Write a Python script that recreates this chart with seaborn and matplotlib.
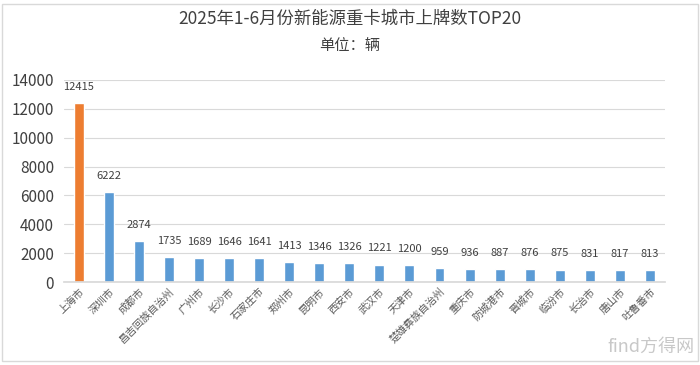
import matplotlib
matplotlib.use("Agg")
import matplotlib.pyplot as plt
import seaborn as sns
import pandas as pd

cities = ["上海市", "深圳市", "成都市", "昌吉回族自治州", "广州市", "长沙市", "石家庄市", "郑州市",
          "昆明市", "西安市", "武汉市", "天津市", "楚雄彝族自治州", "重庆市", "防城港市", "晋城市",
          "临汾市", "长治市", "唐山市", "吐鲁番市"]
values = [12415, 6222, 2874, 1735, 1689, 1646, 1641, 1413, 1346, 1326, 1221, 1200,
          959, 936, 887, 876, 875, 831, 817, 813]
yticks = [0, 2000, 4000, 6000, 8000, 10000, 12000, 14000]

sns.set_theme(style="white")
plt.rcParams['font.family'] = ['Noto Sans CJK SC', 'DejaVu Sans']

df = pd.DataFrame({"city": cities, "value": values})
palette = ["#ED7D31"] + ["#5B9BD5"] * (len(cities) - 1)

fig = plt.figure(figsize=(7, 3.65), dpi=100)
ax = fig.add_axes([0.091, 0.227, 0.859, 0.554])
sns.barplot(data=df, x="city", y="value", hue="city", palette=palette, legend=False,
            width=0.33, ax=ax, saturation=1)

ax.set_ylim(0, 14000)
ax.set_yticks(yticks)
ax.set_yticklabels([str(v) for v in yticks], fontsize=11, color="#404040")
ax.yaxis.grid(True, color="#D9D9D9", linewidth=0.8)
ax.set_axisbelow(True)
for s in ["top", "right", "left"]:
    ax.spines[s].set_visible(False)
ax.spines["bottom"].set_color("#D9D9D9")
ax.tick_params(axis="y", length=0, pad=7)
ax.tick_params(axis="x", length=0, pad=3)
ax.set_xlabel("")
ax.set_ylabel("")
ax.set_xlim(-0.5, len(cities) - 0.5)
ax.set_xticks(range(len(cities)))
ax.set_xticklabels(cities, rotation=45, ha="right", rotation_mode="anchor",
                   fontsize=7.5, color="#595959")

for i, v in enumerate(values):
    ax.annotate(str(v), (i, v), xytext=(0, 8), textcoords="offset points",
                ha="center", va="bottom", fontsize=8, color="#404040")

fig.text(0.5, 0.948, "2025年1-6月份新能源重卡城市上牌数TOP20", ha="center", va="center",
         fontsize=12.5, color="#404040")
fig.text(0.5, 0.876, "单位：辆", ha="center", va="center", fontsize=11, color="#404040")

fig.text(0.93, 0.05, "find方得网", ha="center", va="center", fontsize=13, color="#C8C8C8")

border = plt.Rectangle((0.003, 0.01), 0.994, 0.98, transform=fig.transFigure,
                       fill=False, edgecolor="#D9D9D9", linewidth=1)
fig.patches.append(border)

fig.savefig("out.png", dpi=100)
